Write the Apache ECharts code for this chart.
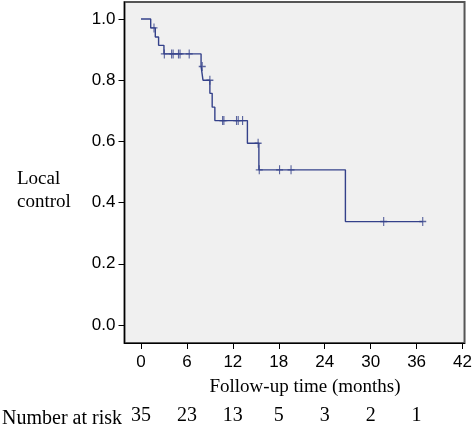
<!DOCTYPE html>
<html><head><meta charset="utf-8">
<script src="https://cdn.jsdelivr.net/npm/echarts@6/dist/echarts.min.js"></script>
<style>html,body{margin:0;padding:0;background:#fff}#c{width:475px;height:427px}</style>
</head><body><div id="c"></div>
<script>
// Kaplan-Meier step points (time in months, local control probability)
const stepTimes    = [0, 1.27, 1.87, 2.3, 3.0, 7.85, 8.1, 9.0, 9.3, 9.65, 13.9, 15.4, 26.7, 36.8];
const stepSurvival = [1.0, 0.971, 0.941, 0.914, 0.886, 0.845, 0.800, 0.757, 0.712, 0.668, 0.594, 0.507, 0.338, 0.338];
// Censored observations
const censorTimes    = [1.7, 3.05, 4.0, 4.2, 4.9, 5.1, 6.3, 8.0, 9.0, 10.66, 10.83, 12.48, 12.7, 13.27, 15.3, 15.45, 18.1, 19.6, 31.7, 36.8];
const censorSurvival = [0.971, 0.886, 0.886, 0.886, 0.886, 0.886, 0.886, 0.845, 0.800, 0.668, 0.668, 0.668, 0.668, 0.668, 0.594, 0.507, 0.507, 0.507, 0.338, 0.338];
// Axis ticks
const xTicks = [0, 6, 12, 18, 24, 30, 36, 42];
const yTicks = [0, 0.2, 0.4, 0.6, 0.8, 1.0];
// Number at risk
const riskTimes = [0, 6, 12, 18, 24, 30, 36];
const numberAtRisk = [35, 23, 13, 5, 3, 2, 1];

const lineColor = '#34418a';
const plusPath = 'path://M-0.16,-1 H0.16 V-0.16 H1 V0.16 H0.16 V1 H-0.16 V0.16 H-1 V-0.16 H-0.16 Z';
const serif = '"Liberation Serif", "Times New Roman", serif';
const sans = '"Liberation Sans", Arial, sans-serif';

const chart = echarts.init(document.getElementById('c'), null, {renderer: 'canvas'});
chart.setOption({
  animation: false,
  backgroundColor: '#ffffff',
  grid: {left: 124.5, top: 2, right: 10, bottom: 84, show: true,
         backgroundColor: '#f0f0f0', borderColor: '#555', borderWidth: 2},
  xAxis: [{
    type: 'value', min: -2.152, max: 42.26,
    splitLine: {show: false},
    axisLine: {show: true, onZero: false, lineStyle: {color: '#000', width: 1.2}},
    axisTick: {show: true, length: 6, customValues: xTicks, lineStyle: {color: '#000'}},
    axisLabel: {customValues: xTicks, margin: 11, color: '#000', fontSize: 17, fontFamily: sans},
    name: 'Follow-up time (months)', nameLocation: 'middle', nameGap: 35,
    nameTextStyle: {fontFamily: serif, fontSize: 19, color: '#000', padding: [0, 0, 0, 21]}
  }, {
    type: 'value', min: -2.152, max: 42.26, position: 'bottom',
    splitLine: {show: false}, axisLine: {show: false}, axisTick: {show: false},
    axisLabel: {customValues: riskTimes, margin: 63, color: '#000', fontSize: 20, fontFamily: serif,
      formatter: v => String(numberAtRisk[riskTimes.indexOf(v)])}
  }],
  yAxis: {
    type: 'value', min: -0.0588, max: 1.0556,
    splitLine: {show: false},
    axisLine: {show: true, onZero: false, lineStyle: {color: '#000', width: 1.2}},
    axisTick: {show: true, length: 6, customValues: yTicks, lineStyle: {color: '#000'}},
    axisLabel: {customValues: yTicks, margin: 9, color: '#000', fontSize: 17, fontFamily: sans,
      formatter: v => v.toFixed(1)}
  },
  series: [{
    type: 'line', step: 'end', showSymbol: false, symbol: 'none',
    data: stepTimes.map((t, i) => [t, stepSurvival[i]]),
    lineStyle: {color: lineColor, width: 1.4}
  }, {
    type: 'scatter', symbol: plusPath, symbolSize: [7, 9],
    data: censorTimes.map((t, i) => [t, censorSurvival[i]]),
    itemStyle: {color: lineColor}
  }],
  graphic: [
    {type: 'text', left: 17, top: 167, style: {text: 'Local\ncontrol', font: '19px ' + serif, fill: '#000', lineHeight: 23.5}},
    {type: 'text', left: 2, top: 409, style: {text: 'Number at risk', font: '20px ' + serif, fill: '#000'}}
  ]
});
</script></body></html>
